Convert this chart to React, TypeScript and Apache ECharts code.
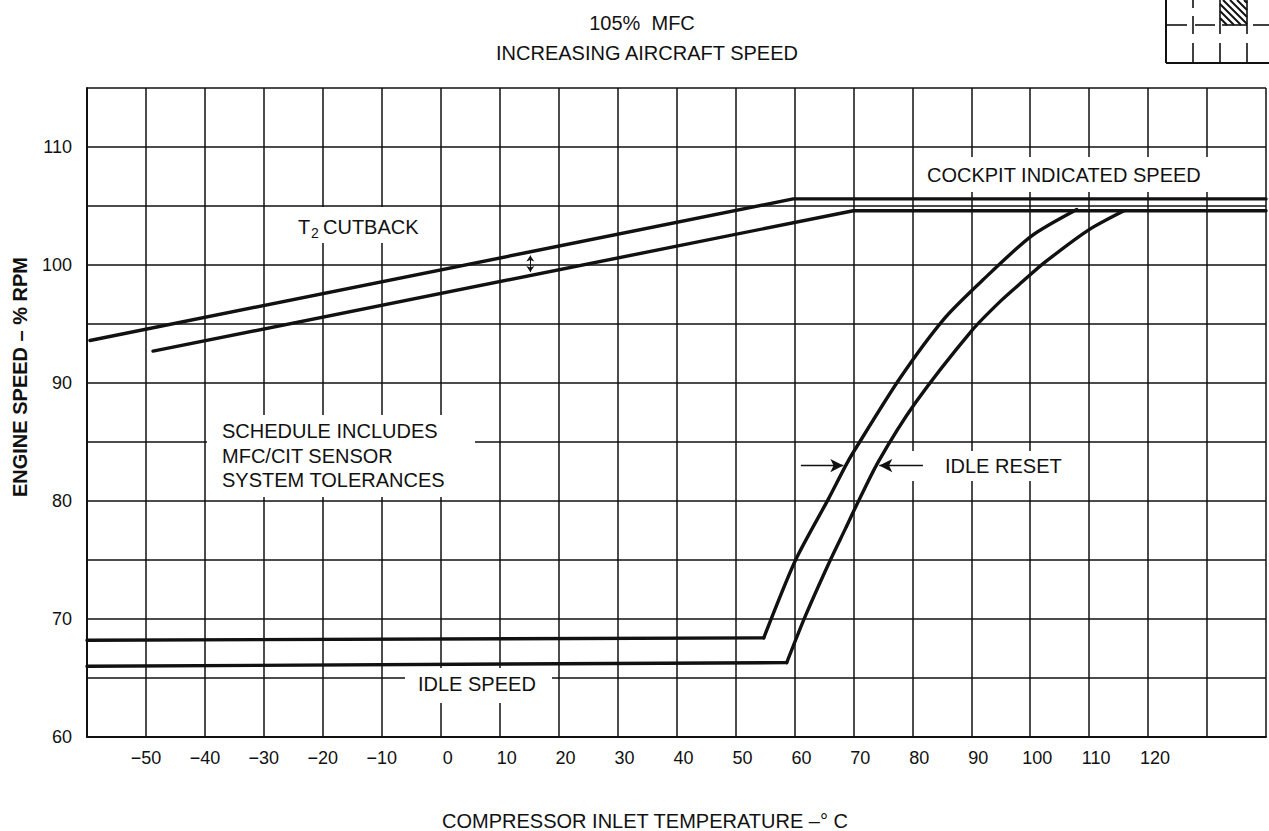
import React, { useEffect, useRef } from "react";
import * as echarts from "echarts";

// ---- data ----
const xLabelValues = [-50, -40, -30, -20, -10, 0, 10, 20, 30, 40, 50, 60, 70, 80, 90, 100, 110, 120];
const yLabelValues = [60, 70, 80, 90, 100, 110];

// T2 cutback schedules (compressor inlet temp °C, engine speed %RPM)
const t2CockpitLine = [[-59.5, 93.6], [59.8, 105.6], [140, 105.6]];
const t2ScheduleLine = [[-48.8, 92.7], [70.0, 104.6], [140, 104.6]];

// Idle speed (flat) and idle reset (rising) schedules
const idleSpeedUpper = [[-60, 68.2], [54.8, 68.4]];
const idleResetUpper = [
  [54.8, 68.4], [60.2, 75.0], [65.8, 80.2], [68.7, 83.0], [70.2, 84.3],
  [77.9, 90.4], [85.5, 95.5], [91.9, 98.7], [100.2, 102.45], [107.9, 104.7],
];
const idleSpeedLower = [[-60, 66.0], [58.7, 66.3]];
const idleResetLower = [
  [58.7, 66.3], [61.9, 70.3], [66.1, 75.0], [68.7, 77.7], [70.4, 79.5],
  [74.2, 83.3], [80.5, 88.3], [90.2, 94.5], [95.1, 97.0], [98.7, 98.6], [102.4, 100.2],
  [110.0, 103.0], [115.9, 104.6],
];

// annotation arrows (data coordinates)
const idleResetArrowRight = [[61.1, 83.0], [68.3, 83.0]];
const idleResetArrowLeft = [[81.8, 83.0], [74.4, 83.0]];
const t2ToleranceArrow = [[15.2, 100.8], [15.2, 99.4]];

const FONT = '"Liberation Sans", Arial, Helvetica, sans-serif';
const INK = "#111";

function hatchLines(x: number, y: number, w: number, h: number, step: number) {
  const out: any[] = [];
  for (let x0 = x - h; x0 < x + w; x0 += step) {
    let sx = x0, sy = y, ex = x0 + h, ey = y + h;
    if (sx < x) { sy += x - sx; sx = x; }
    if (ex > x + w) { ey -= ex - (x + w); ex = x + w; }
    if (ex - sx > 1) {
      out.push({ type: "line", shape: { x1: sx, y1: sy, x2: ex, y2: ey }, style: { stroke: INK, lineWidth: 2 }, z: 5 });
    }
  }
  return out;
}

function seg(x1: number, y1: number, x2: number, y2: number, w = 1.6) {
  return { type: "line", shape: { x1, y1, x2, y2 }, style: { stroke: INK, lineWidth: w }, z: 5 };
}

function whiteBox(x: number, y: number, width: number, height: number) {
  return { type: "rect", shape: { x, y, width, height }, style: { fill: "#fff" }, z: 1 };
}

function txt(text: string, x: number, y: number, opts: any = {}) {
  return {
    type: "text",
    x,
    y,
    rotation: opts.rotation || 0,
    z: 6,
    style: {
      text,
      fill: INK,
      font: `${opts.bold ? "bold " : ""}${opts.size || 20}px ${FONT}`,
      align: opts.align || "left",
      verticalAlign: "middle",
    },
  };
}

const lineSeries = (name: string, data: number[][], extra: any = {}) => ({
  name,
  type: "line",
  data,
  symbol: "none",
  showSymbol: false,
  clip: true,
  lineStyle: { color: INK, width: 3.4, cap: "round", join: "round" },
  z: 2,
  ...extra,
});

const arrowMark = (symbol: string[], size: any, width: number, lines: number[][][]) => ({
  silent: true,
  symbol,
  symbolSize: size,
  label: { show: false },
  lineStyle: { color: INK, width, type: "solid" },
  itemStyle: { color: INK },
  emphasis: { disabled: true },
  data: lines.map((l) => [{ coord: l[0] }, { coord: l[1] }]),
});

export default function App() {
  const ref = useRef<HTMLDivElement>(null);

  useEffect(() => {
    const chart = echarts.init(ref.current!, null, { renderer: "svg" });

    const option: any = {
      animation: false,
      backgroundColor: "#fff",
      textStyle: { fontFamily: FONT },
      grid: { left: 87, top: 88, right: -4, bottom: 94, containLabel: false },
      xAxis: {
        type: "value",
        min: -60,
        max: 140,
        interval: 10,
        axisLine: { show: true, onZero: false, lineStyle: { color: INK, width: 2 } },
        axisTick: { show: false },
        splitLine: { show: true, lineStyle: { color: INK, width: 1.5 } },
        axisLabel: {
          margin: 12,
          color: INK,
          fontSize: 18,
          fontFamily: FONT,
          formatter: (v: number) => {
            const r = Math.round(v);
            if (!xLabelValues.includes(r)) return "";
            return r < 0 ? `{n|\u2212${-r}}` : `{p|${r}}`;
          },
          rich: {
            n: { fontSize: 18, fontFamily: FONT, color: INK },
            p: { fontSize: 18, fontFamily: FONT, color: INK, padding: [0, 0, 0, 14] },
          },
        },
      },
      yAxis: {
        type: "value",
        min: 60,
        max: 115,
        interval: 5,
        axisLine: { show: true, onZero: false, lineStyle: { color: INK, width: 2 } },
        axisTick: { show: false },
        splitLine: { show: true, lineStyle: { color: INK, width: 1.5 } },
        axisLabel: {
          margin: 15,
          color: INK,
          fontSize: 18,
          fontFamily: FONT,
          padding: [0, 0, 6, 0],
          formatter: (v: number) => {
            const r = Math.round(v);
            return yLabelValues.includes(r) ? String(r) : "";
          },
        },
      },
      series: [
        lineSeries("T2 cutback (cockpit indicated)", t2CockpitLine, {
          markLine: arrowMark(["arrow", "arrow"], 6, 1, [t2ToleranceArrow]),
        }),
        lineSeries("T2 cutback (schedule)", t2ScheduleLine),
        lineSeries("Idle speed (cockpit indicated)", idleSpeedUpper),
        lineSeries("Idle reset (cockpit indicated)", idleResetUpper, {
          smooth: 0.25,
          markLine: arrowMark(["none", "arrow"], [10, 13], 1.3, [idleResetArrowRight, idleResetArrowLeft]),
        }),
        lineSeries("Idle speed (schedule)", idleSpeedLower),
        lineSeries("Idle reset (schedule)", idleResetLower, { smooth: 0.25 }),
      ],
      graphic: [
        // titles
        txt("105%  MFC", 642, 23, { align: "center" }),
        txt("INCREASING AIRCRAFT SPEED", 647, 53, { align: "center" }),
        // axis titles
        txt("COMPRESSOR INLET TEMPERATURE \u2013\u00B0 C", 645, 821, { align: "center" }),
        txt("ENGINE SPEED \u2013 % RPM", 20, 377, { align: "center", bold: true, rotation: Math.PI / 2 }),
        // annotation boxes
        whiteBox(921, 157, 290, 35),
        txt("COCKPIT INDICATED SPEED", 927, 175),
        whiteBox(290, 207, 137, 36),
        txt("T", 298, 227),
        txt("2", 311, 233, { size: 14 }),
        txt("CUTBACK", 323, 227),
        whiteBox(207, 415, 268, 82),
        txt("SCHEDULE INCLUDES", 222, 431),
        txt("MFC/CIT SENSOR", 222, 456),
        txt("SYSTEM TOLERANCES", 222, 480),
        whiteBox(898, 451, 174, 30),
        txt("IDLE RESET", 945, 466),
        whiteBox(405, 668, 147, 35),
        txt("IDLE SPEED", 418, 684),
        // page locator inset (top right)
        { type: "rect", shape: { x: 1166, y: 0, width: 110, height: 63 }, style: { fill: "#fff" }, z: 4 },
        seg(1166, 0, 1166, 63, 2),
        seg(1166, 63, 1269, 63, 2),
        seg(1166, 25, 1187, 25),
        seg(1195, 25, 1215, 25),
        seg(1222, 25, 1247, 25),
        seg(1253, 25, 1269, 25),
        seg(1193, 0, 1193, 8),
        seg(1193, 16, 1193, 34),
        seg(1193, 43, 1193, 63),
        seg(1220, 0, 1220, 34),
        seg(1220, 43, 1220, 63),
        seg(1247, 0, 1247, 34),
        seg(1247, 43, 1247, 63),
        ...hatchLines(1220, 0, 27, 25, 7),
      ],
    };

    chart.setOption(option);
    return () => chart.dispose();
  }, []);

  return (
    <div
      ref={ref}
      style={{ position: "absolute", left: 0, top: 0, width: 1269, height: 831, background: "#fff" }}
    />
  );
}
